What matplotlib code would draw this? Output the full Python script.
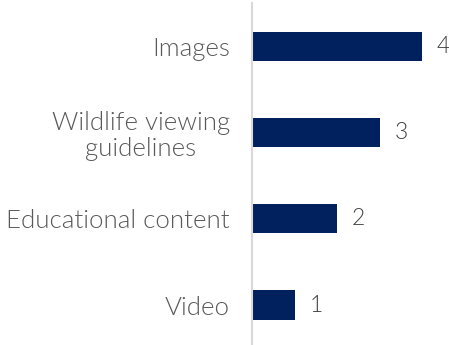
import matplotlib
matplotlib.use("Agg")
import matplotlib.pyplot as plt

categories = ["Video", "Educational content", "Wildlife viewing\nguidelines", "Images"]
values = [1, 2, 3, 4]

BAR_COLOR = "#00215E"
TEXT_COLOR = "#595959"

plt.rcParams["font.family"] = ["Lato", "DejaVu Sans"]

W, H = 449, 345
fig = plt.figure(figsize=(W / 100, H / 100), dpi=100)
ax = fig.add_axes([252 / W, 0, (W - 252) / W, 342 / H])

y = list(range(len(categories)))
ax.barh(y, values, height=0.34, color=BAR_COLOR)

ax.set_xlim(0, (W - 252) / 42.5)
ax.set_ylim(-0.464, 3.505)

ax.set_yticks(y)
ax.set_yticklabels(categories, fontsize=18.6, color=TEXT_COLOR, fontweight=300,
                   multialignment="center", linespacing=1.1)
ax.tick_params(axis="y", length=0, pad=16)
ax.set_xticks([])

for s in ["top", "right", "bottom"]:
    ax.spines[s].set_visible(False)
ax.spines["left"].set_color("#D9D9D9")
ax.spines["left"].set_linewidth(1.5)

for yi, v in zip(y, values):
    ax.annotate(str(v), (v, yi), xytext=(15, 0), textcoords="offset pixels",
                va="center", ha="left", fontsize=16.5, color="#404040",
                fontweight=300)

fig.savefig("out.png", dpi=100)
